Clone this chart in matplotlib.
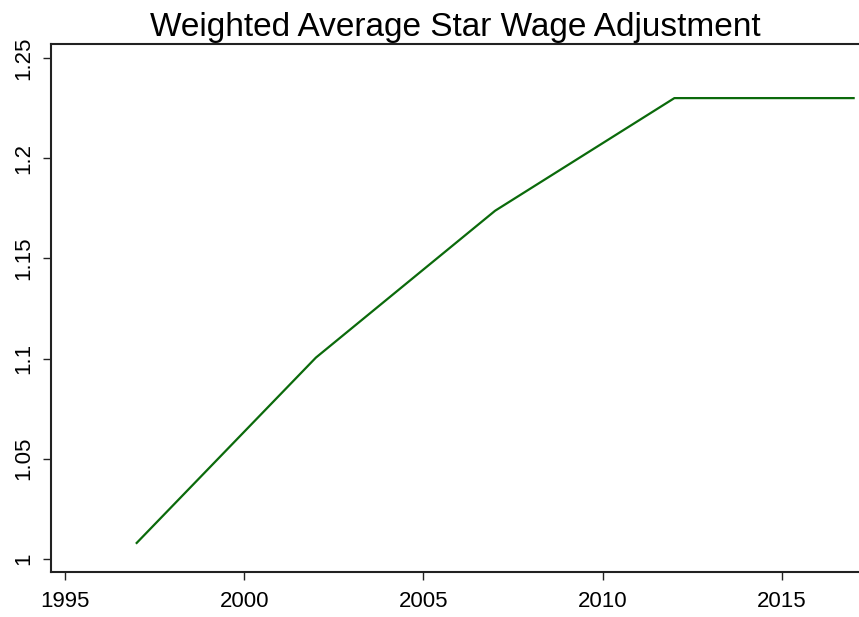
import matplotlib
matplotlib.use("Agg")
import matplotlib.pyplot as plt

years = [1997, 2002, 2007, 2012, 2017]
adjustment = [1.008, 1.1005, 1.1738, 1.23, 1.23]
x_ticks = [1995, 2000, 2005, 2010, 2015]
y_ticks = [1.0, 1.05, 1.1, 1.15, 1.2, 1.25]
y_tick_labels = ["1", "1.05", "1.1", "1.15", "1.2", "1.25"]
title = "Weighted Average Star Wage Adjustment"

plt.rcParams['font.family'] = ['Liberation Sans', 'DejaVu Sans']

W, H = 859, 617
fig = plt.figure(figsize=(W / 100, H / 100), dpi=100)
left, right, top, bottom = 51, 859, 44, 572
ax = fig.add_axes([left / W, (H - bottom) / H, (right - left) / W, (bottom - top) / H])

ax.plot(years, adjustment, color='#0b6a0b', linewidth=1.6)

ax.set_xlim(1994.61, 2017.15)
ax.set_ylim(0.9935, 1.257)
ax.set_xticks(x_ticks)
ax.set_xticklabels([str(t) for t in x_ticks], fontsize=16)
ax.set_yticks(y_ticks)
ax.set_yticklabels(y_tick_labels, fontsize=16, rotation=90, va='center')
ax.tick_params(direction='out', length=6, width=1, color='#222222')
ax.tick_params(axis='x', pad=8)
ax.tick_params(axis='y', pad=6)
for s in ['left', 'top', 'bottom']:
    ax.spines[s].set_linewidth(1.5)
    ax.spines[s].set_color('#222222')
ax.spines['right'].set_visible(False)
ax.set_title(title, fontsize=24, pad=6)

fig.savefig("out.png", dpi=100)
